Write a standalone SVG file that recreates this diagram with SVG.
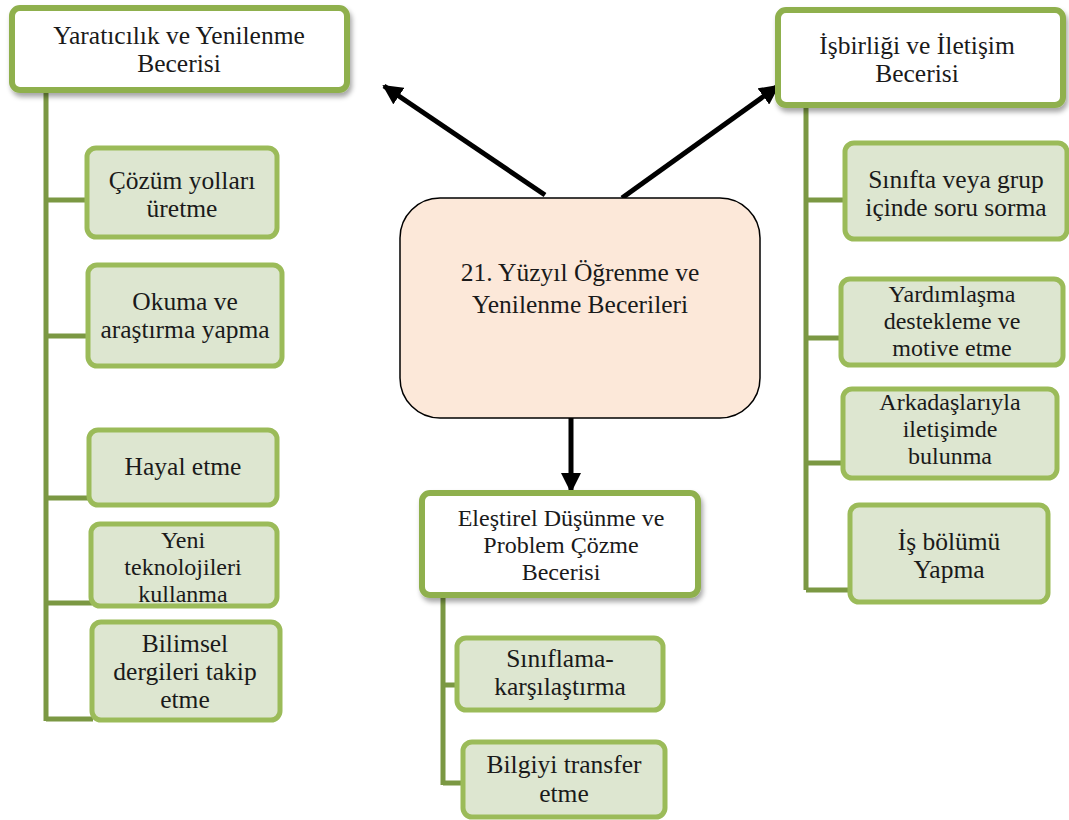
<svg xmlns="http://www.w3.org/2000/svg" width="1069" height="820" viewBox="0 0 1069 820">
<style>
text{font-family:"Liberation Serif",Tinos,"Times New Roman","DejaVu Serif",serif;font-size:25.5px;fill:#1a1a1a;text-anchor:middle}
text.s{font-size:24px}
.hdr{fill:#ffffff;stroke:#8fb04e;stroke-width:6}
.leaf{fill:#dde6d0;stroke:#9bbb59;stroke-width:5}
.trunk{stroke:#7b9843;stroke-width:5;fill:none}
.arrow{stroke:#000;stroke-width:5;fill:none}
</style>
<defs>
<marker id="ah" viewBox="0 0 10 10" refX="9" refY="5" markerWidth="4" markerHeight="4" orient="auto" markerUnits="strokeWidth">
<path d="M0,0 L10,5 L0,10 z" fill="#000"/>
</marker>
<filter id="sh" x="-10%" y="-10%" width="125%" height="130%">
<feDropShadow dx="2" dy="4" stdDeviation="2.5" flood-color="#000" flood-opacity="0.35"/>
</filter>
</defs>
<g id="connectors">
<path class="trunk" d="M46,90 V721 M46,200 H88 M46,336 H89 M46,498 H90 M46,603 H92 M46,719 H93"/>
<path class="trunk" d="M806,105 V590 M806,200 H846 M806,338 H842 M806,463 H844 M806,590 H851"/>
<path class="trunk" d="M443,595 V785 M443,685 H458 M443,783 H464"/>
<line class="arrow" x1="545" y1="195" x2="384" y2="86" marker-end="url(#ah)"/>
<line class="arrow" x1="622" y1="198" x2="778" y2="86" marker-end="url(#ah)"/>
<line class="arrow" x1="571" y1="414" x2="571" y2="491" marker-end="url(#ah)"/>
</g>
<g id="center">
<rect x="400" y="198" width="360" height="220" rx="40" fill="#fce8d9" stroke="#000" stroke-width="1.5"/>
<text x="580" y="281">21. Yüzyıl Öğrenme ve</text>
<text x="580" y="313">Yenilenme Becerileri</text>
</g>
<g id="yaraticilik">
<rect class="hdr" x="12" y="8" width="335" height="82" rx="8" filter="url(#sh)"/>
<text x="179" y="44">Yaratıcılık ve Yenilenme</text>
<text x="179" y="72">Becerisi</text>
</g>
<g id="cozum">
<rect class="leaf" x="87" y="148" width="190" height="89" rx="9"/>
<text x="182" y="189">Çözüm yolları</text>
<text x="182" y="217">üretme</text>
</g>
<g id="okuma">
<rect class="leaf" x="88" y="265" width="194" height="101" rx="9"/>
<text x="185" y="310">Okuma ve</text>
<text x="185" y="338">araştırma yapma</text>
</g>
<g id="hayal">
<rect class="leaf" x="89" y="430" width="188" height="75" rx="9"/>
<text x="183" y="475">Hayal etme</text>
</g>
<g id="yeni">
<rect class="leaf" x="91" y="524" width="186" height="82" rx="9"/>
<text class="s" x="183" y="548">Yeni</text>
<text class="s" x="183" y="575">teknolojileri</text>
<text class="s" x="183" y="602">kullanma</text>
</g>
<g id="bilimsel">
<rect class="leaf" x="92" y="622" width="188" height="98" rx="9"/>
<text x="185" y="652">Bilimsel</text>
<text x="185" y="680">dergileri takip</text>
<text x="185" y="708">etme</text>
</g>
<g id="isbirligi">
<rect class="hdr" x="778" y="10" width="285" height="95" rx="8" filter="url(#sh)"/>
<text x="917" y="54">İşbirliği ve İletişim</text>
<text x="917" y="82">Becerisi</text>
</g>
<g id="sinifta">
<rect class="leaf" x="845" y="143" width="222" height="96" rx="9"/>
<text x="956" y="188">Sınıfta veya grup</text>
<text x="956" y="216">içinde soru sorma</text>
</g>
<g id="yardimlasma">
<rect class="leaf" x="841" y="279" width="222" height="86" rx="9"/>
<text class="s" x="952" y="302">Yardımlaşma</text>
<text class="s" x="952" y="329">destekleme ve</text>
<text class="s" x="952" y="356">motive etme</text>
</g>
<g id="arkadaslariyla">
<rect class="leaf" x="843" y="389" width="214" height="89" rx="9"/>
<text class="s" x="950" y="410">Arkadaşlarıyla</text>
<text class="s" x="950" y="437">iletişimde</text>
<text class="s" x="950" y="464">bulunma</text>
</g>
<g id="isbolumu">
<rect class="leaf" x="850" y="505" width="198" height="97" rx="9"/>
<text x="949" y="550">İş bölümü</text>
<text x="949" y="578">Yapma</text>
</g>
<g id="elestirel">
<rect class="hdr" x="422" y="493" width="276" height="102" rx="8" filter="url(#sh)"/>
<text class="s" x="561" y="526">Eleştirel Düşünme ve</text>
<text class="s" x="561" y="553">Problem Çözme</text>
<text class="s" x="561" y="580">Becerisi</text>
</g>
<g id="siniflama">
<rect class="leaf" x="457" y="638" width="206" height="72" rx="9"/>
<text x="560" y="667">Sınıflama-</text>
<text x="560" y="695">karşılaştırma</text>
</g>
<g id="bilgiyi">
<rect class="leaf" x="463" y="742" width="202" height="75" rx="9"/>
<text x="564" y="773">Bilgiyi transfer</text>
<text x="564" y="802">etme</text>
</g>
</svg>
